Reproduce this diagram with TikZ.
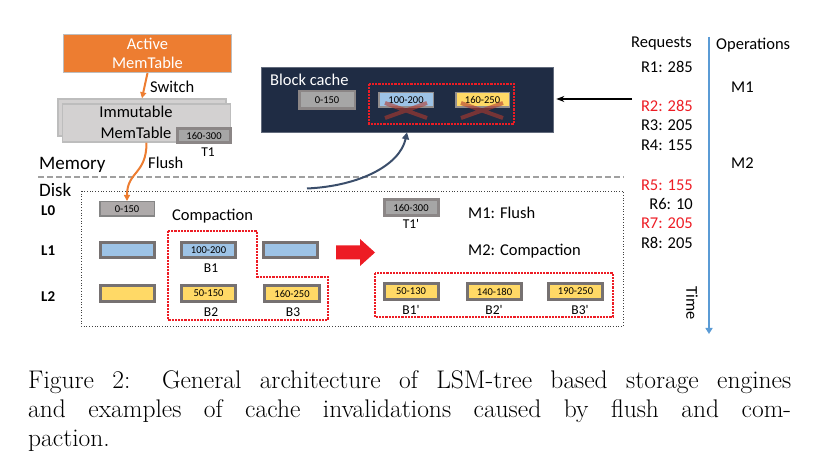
\documentclass[tikz,border=0pt]{standalone}
\usepackage{fontspec}
\newfontfamily\carlito{Carlito}
\usetikzlibrary{arrows.meta,calc}

\definecolor{actorange}{HTML}{ED7D31}
\definecolor{immfill}{HTML}{D3D1D1}
\definecolor{immedge}{HTML}{BDBDBD}
\definecolor{sstedge}{HTML}{767171}
\definecolor{grayfill}{HTML}{A6A6A6}
\definecolor{l0fill}{HTML}{AEAAAA}
\definecolor{bluefill}{HTML}{9DC3E6}
\definecolor{yellowfill}{HTML}{FFD966}
\definecolor{cachenavy}{HTML}{1F2C44}
\definecolor{curvenavy}{HTML}{3B4E6B}
\definecolor{timeblue}{HTML}{5B9BD5}
\definecolor{hotred}{HTML}{ED1C24}
\definecolor{xred}{HTML}{B03A2E}
\definecolor{memgray}{HTML}{A0A0A0}

\tikzset{
  lbl/.style={font=\carlito\fontsize{16.5}{20}\selectfont, inner sep=0pt},
  biglbl/.style={font=\carlito\fontsize{19}{22}\selectfont, inner sep=0pt},
  lvl/.style={font=\carlito\bfseries\fontsize{15}{18}\selectfont, inner sep=0pt},
  tag/.style={font=\carlito\fontsize{13.5}{16}\selectfont, inner sep=0pt},
  sst/.style={draw=sstedge, line width=3pt, inner sep=0pt,
    minimum width=54pt, minimum height=15.5pt,
    font=\carlito\fontsize{10.5}{12}\selectfont},
  l1box/.style={sst, fill=bluefill},
  l2box/.style={sst, fill=yellowfill},
  tbox/.style={sst, fill=grayfill, draw=sstedge!85},
  reddots/.style={draw=hotred, line width=2.3pt, dash pattern=on 2.2pt off 1pt},
  orangearrow/.style={draw=actorange, line width=2pt,
    -{Triangle[length=6pt,width=6pt]}},
  crossline/.style={draw=xred, line width=4pt, opacity=0.6},
  captionline/.style={anchor=base west, inner sep=0pt,
    font=\fontsize{25.5}{29}\selectfont},
}

\begin{document}
\begin{tikzpicture}[x=1pt,y=-1pt]
\useasboundingbox (0,0) rectangle (830,462);

% ---------------- memory side ----------------
\node[fill=actorange, draw=immedge, line width=1pt, minimum width=168pt,
  minimum height=38pt, inner sep=0pt, align=center,
  font=\carlito\fontsize{16.5}{19}\selectfont, text=white]
  (active) at (147.5,53.5) {Active\\MemTable};

\node[fill=immfill, draw=immedge, line width=1.5pt, minimum width=168pt,
  minimum height=37pt, inner sep=0pt] (immback) at (142,117.5) {};
\node[fill=immfill, draw=immedge, line width=1.5pt, minimum width=168pt,
  minimum height=38pt, inner sep=0pt] (imm) at (146.5,123) {};
\node[align=center, font=\carlito\fontsize{16.5}{21}\selectfont, inner sep=0pt]
  (immtext) at (136,122.5) {Immutable\\MemTable};

\node[tbox, minimum width=53pt, minimum height=14pt] (t1) at (204,135.5) {160-300};
\node[tag] (t1lbl) at (208,152) {T1};

\draw[orangearrow] (active.south) -- (immback.north);
\node[lbl, anchor=west] (switch) at (150,87) {Switch};

\node[biglbl, anchor=west] (memory) at (39,165) {Memory};
\draw[memgray, line width=1.5pt, dash pattern=on 6pt off 3pt] (38,177) -- (624,177);
\node[biglbl, anchor=west] (disk) at (39,190) {Disk};

% ---------------- disk side ----------------
\draw[black!75, line width=0.7pt, dotted] (81,191) rectangle (623,326);

\node[lvl, anchor=west] (lz) at (41,211) {L0};
\node[lvl, anchor=west] (lo) at (41,251) {L1};
\node[lvl, anchor=west] (lt) at (41,297) {L2};

\node[sst, fill=l0fill, draw=grayfill!80!black, line width=1.5pt,
  minimum width=54.5pt, minimum height=14.5pt] (l0a) at (127,209) {0-150};

\draw[orangearrow] (imm.south) .. controls +(0,32) and +(0,-30) .. (l0a.north);
\node[lbl, anchor=west] (flush) at (148,163) {Flush};

\node[l1box] (l1a) at (127.5,250) {};
\node[l1box] (b1) at (208.5,250) {100-200};
\node[l1box] (l1c) at (290,250) {};
\node[l2box] (l2a) at (127.5,293.5) {};
\node[l2box] (b2) at (208.5,293.5) {50-150};
\node[l2box, minimum width=55pt] (b3) at (292,293.5) {160-250};

\node[tag] (b1lbl) at (211,268) {B1};
\node[tag] (b2lbl) at (211,312) {B2};
\node[tag] (b3lbl) at (293,312) {B3};

\node[lbl, anchor=west] (compaction) at (172,216) {Compaction};
\draw[reddots] (168,231) -- (257,231) -- (257,277) -- (328,277)
  -- (328,320) -- (168,320) -- cycle;

% big red arrow
\fill[hotred] (336,245.5) -- (360,245.5) -- (360,239) -- (375,252.5)
  -- (360,266) -- (360,259.5) -- (336,259.5) -- cycle;

% state after flush and compaction
\node[tbox] (t1p) at (411,207.5) {160-300};
\node[tag] (t1plbl) at (411,224) {T1'};
\node[lbl, anchor=west] (m1txt) at (468,213) {M1: Flush};
\node[lbl, anchor=west] (m2txt) at (468,251) {M2: Compaction};

\draw[reddots] (375,273) rectangle (613,317);
\node[l2box] (b1p) at (411,291.5) {50-130};
\node[l2box] (b2p) at (494.5,291.5) {140-180};
\node[l2box] (b3p) at (575.5,291.5) {190-250};
\node[tag] (b1plbl) at (411,310) {B1'};
\node[tag] (b2plbl) at (494,310) {B2'};
\node[tag] (b3plbl) at (580,310) {B3'};

% ---------------- block cache ----------------
\node[fill=cachenavy, draw=cachenavy!70!white, line width=0.6pt,
  minimum width=292pt, minimum height=65pt, inner sep=0pt] (cache) at (407,99.5) {};
\node[lbl, anchor=west, text=white] (cachetxt) at (270,80) {Block cache};
\node[tbox, line width=2.5pt, minimum width=55.5pt, minimum height=17.5pt]
  (c0) at (327,100) {0-150};
\node[sst, fill=bluefill, draw=sstedge!80, line width=1.5pt,
  minimum width=54.5pt, minimum height=14.5pt] (c1) at (406,100) {100-200};
\node[sst, fill=yellowfill, draw=sstedge!80, line width=1.5pt,
  minimum width=53.5pt, minimum height=14.5pt] (c2) at (482.5,100) {160-250};
\draw[reddots] (369,84) rectangle (514,124);
\draw[crossline] (385,103) -- (427,118) (385,118) -- (427,103);
\draw[crossline] (461,103) -- (503,118) (461,118) -- (503,103);

\coordinate (cs) at (307,188.5);
\draw[curvenavy, line width=2pt, -{Triangle[length=7pt,width=7pt]}]
  (cs) .. controls (360,186) and (400,165) .. (cache.south);

\coordinate (rq) at (632,99);
\draw[black, line width=1.2pt, -{Stealth[length=8pt,width=6pt]}, shorten >=3pt]
  (rq) -- (cache.east |- rq);

% ---------------- requests and operations ----------------
\node[lbl, anchor=east] (reqhead) at (692,44) {Requests};
\node[lbl, anchor=east] (r1) at (693,67) {R1: 285};
\node[lbl, anchor=east, text=hotred] (r2) at (693,106) {R2: 285};
\node[lbl, anchor=east] (r3) at (693,125) {R3: 205};
\node[lbl, anchor=east] (r4) at (693,145) {R4: 155};
\node[lbl, anchor=east, text=hotred] (r5) at (693,185) {R5: 155};
\node[lbl, anchor=east] (r6) at (693,204) {R6: 10};
\node[lbl, anchor=east, text=hotred] (r7) at (693,223) {R7: 205};
\node[lbl, anchor=east] (r8) at (693,243) {R8: 205};

\coordinate (t0) at (709,37);
\coordinate (t1end) at (709,334);
\draw[timeblue, line width=1.6pt, -{Triangle[length=6pt,width=7pt]}] (t0) -- (t1end);
\node[lbl, rotate=-90] (time) at (692,303) {Time};

\node[lbl, anchor=west] (ophead) at (716,45) {Operations};
\node[lbl, anchor=west] (m1) at (731,87) {M1};
\node[lbl, anchor=west] (m2) at (731,163) {M2};

% ---------------- caption ----------------
\node[captionline] (cap1) at (28,388)
  {\makebox[763pt][s]{Figure 2: General architecture of LSM-tree based storage engines}};
\node[captionline] (cap2) at (28,417)
  {\makebox[763pt][s]{and examples of cache invalidations caused by flush and com-}};
\node[captionline] (cap3) at (28,446) {paction.};
\end{tikzpicture}
\end{document}
